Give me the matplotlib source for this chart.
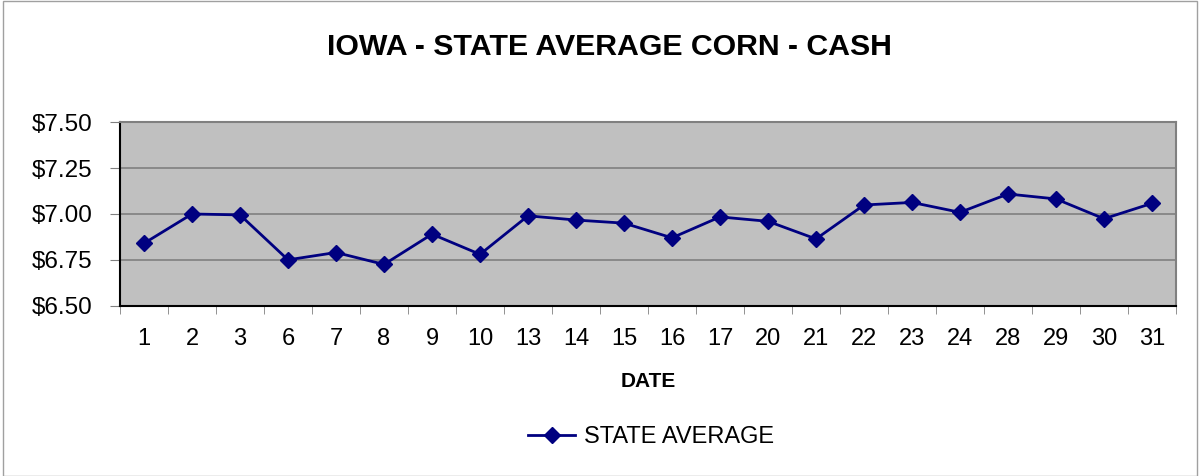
import matplotlib
matplotlib.use("Agg")
import matplotlib.pyplot as plt
from matplotlib.patches import Rectangle
from matplotlib.ticker import FuncFormatter

plt.rcParams['font.family'] = ['Liberation Sans', 'DejaVu Sans']

dates = ['1', '2', '3', '6', '7', '8', '9', '10', '13', '14', '15', '16',
         '17', '20', '21', '22', '23', '24', '28', '29', '30', '31']
state_avg = [6.84, 7.00, 6.995, 6.75, 6.79, 6.725, 6.89, 6.78, 6.99, 6.967, 6.95, 6.87,
             6.984, 6.96, 6.864, 7.049, 7.063, 7.009, 7.109, 7.082, 6.974, 7.058]

fig = plt.figure(figsize=(11.99, 4.76), dpi=100)
ax = fig.add_axes([0.1001, 0.3578, 0.8807, 0.3853])
ax.set_facecolor('#c0c0c0')

x = list(range(len(dates)))
ax.plot(x, state_avg, color='#000080', linewidth=2, marker='D', markersize=8,
        label='STATE AVERAGE')

ax.set_xlim(-0.5, len(dates) - 0.5)
ax.set_ylim(6.5, 7.5)
ax.set_yticks([6.5, 6.75, 7.0, 7.25, 7.5])
ax.yaxis.set_major_formatter(FuncFormatter(lambda v, p: '${:.2f}'.format(v)))
ax.yaxis.grid(True, color='#808080', linewidth=1.2)
ax.set_axisbelow(True)

ax.set_xticks(x)
ax.set_xticklabels(dates)
ax.set_xticks([i - 0.5 for i in range(len(dates) + 1)], minor=True)
ax.tick_params(axis='x', which='major', length=0, labelsize=17, pad=16)
ax.tick_params(axis='x', which='minor', length=6, color='#808080', direction='out')
ax.tick_params(axis='y', length=7, labelsize=17.5, color='#808080', pad=13)

for s in ['top', 'right']:
    ax.spines[s].set_color('#808080')
    ax.spines[s].set_linewidth(1.5)
for s in ['left', 'bottom']:
    ax.spines[s].set_color('black')
    ax.spines[s].set_linewidth(1.5)

ax.set_xlabel('DATE', fontsize=15, fontweight='bold', labelpad=16)
fig.text(0.508, 0.902, 'IOWA - STATE AVERAGE CORN - CASH', ha='center', va='center',
         fontsize=21.8, fontweight='bold')

fig.legend(loc='center', bbox_to_anchor=(0.543, 0.082), frameon=False, fontsize=17,
           handlelength=2.0, handletextpad=0.35)

fig.patches.append(Rectangle((0.0025, 0.001), 0.996, 0.997, transform=fig.transFigure,
                             fill=False, edgecolor='#a0a0a0', linewidth=1))

fig.savefig('out.png', dpi=100)
